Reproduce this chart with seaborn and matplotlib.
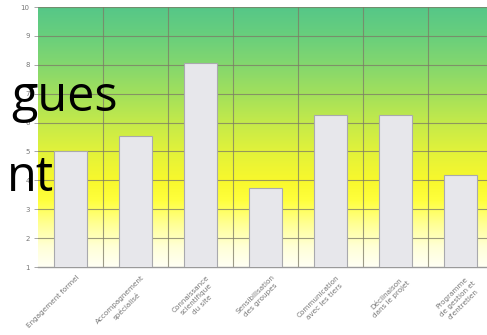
import numpy as np
import pandas as pd
import matplotlib
matplotlib.use("Agg")
import matplotlib.pyplot as plt
import matplotlib.transforms as mtransforms
from matplotlib.colors import LinearSegmentedColormap
import seaborn as sns

categories = [
    "Engagement formel",
    "Accompagnement\nspécialisé",
    "Connaissance\nscientifique\ndu site",
    "Sensibilisation\ndes groupes",
    "Communication\navec les tiers",
    "Déclinaison\ndans le projet",
    "Programme\nde gestion et\nd'entretien",
]
scores = [5.0, 5.55, 8.05, 3.75, 6.25, 6.25, 4.2]
y_ticks = list(range(1, 11))

df = pd.DataFrame({"critere": categories, "note": scores})

sns.set_theme(style="white")
plt.rcParams["font.family"] = ["DejaVu Sans"]

fig = plt.figure(figsize=(4.87, 3.35), dpi=100)
ax = fig.add_axes([38 / 487, 1 - 267 / 335, 455 / 487, 260 / 335])

# background gradient: green at the top, yellow in the middle, white at the bottom
stops = [
    (1.0, "#fffff4"), (1.7, "#ffffd6"), (2.5, "#ffff92"), (3.3, "#ffff3c"),
    (4.0, "#f8f82c"), (5.0, "#e2f23a"), (6.0, "#c4ea4a"), (7.0, "#a2e05c"),
    (8.0, "#84d76e"), (9.0, "#69cf7c"), (10.0, "#56c788"),
]
cmap = LinearSegmentedColormap.from_list(
    "fond", [((v - 1) / 9, c) for v, c in stops])
grad = np.linspace(0, 1, 256).reshape(-1, 1)
ax.imshow(grad, cmap=cmap, origin="lower", aspect="auto",
          extent=(-0.5, 6.5, 1, 10), zorder=0, interpolation="bicubic")

# grid
for v in y_ticks[1:]:
    ax.axhline(v, color="#7d7a66", lw=0.8, alpha=0.75, zorder=1)
for k in range(len(categories)):
    ax.axvline(k + 0.5, color="#7d7a66", lw=0.8, alpha=0.75, zorder=1)

sns.barplot(data=df, x="critere", y="note", ax=ax, width=0.5,
            color="#e7e7eb", edgecolor="#a9a9ad", linewidth=0.8,
            saturation=1, zorder=3)
for p in ax.patches:
    p.set_zorder(3)

ax.set_xlim(-0.5, 6.5)
ax.set_ylim(1, 10)
ax.set_yticks(y_ticks)
ax.set_yticklabels([str(t) for t in y_ticks], fontsize=5, color="#777777")
ax.tick_params(axis="y", length=3, width=0.6, color="#999999", pad=3, left=True)
ax.set_xticks(range(len(categories)))
ax.set_xticklabels(categories, rotation=45, ha="right", rotation_mode="anchor",
                   fontsize=5.2, color="#777777", multialignment="center",
                   linespacing=1.4)
ax.tick_params(axis="x", length=0, pad=5)
shift = mtransforms.ScaledTranslation(6 / 100, 0, fig.dpi_scale_trans)
for lab in ax.get_xticklabels():
    lab.set_transform(lab.get_transform() + shift)
ax.set_xlabel("")
ax.set_ylabel("")
for side in ["top", "right", "left"]:
    ax.spines[side].set_visible(False)
ax.spines["bottom"].set_color("#9a9a9a")
ax.spines["bottom"].set_linewidth(1.0)

# fragments of the slide title overlapping the chart
fig.text(118 / 487, 1 - 111 / 335, "gues", ha="right", va="baseline",
         fontsize=35, color="black", family=["Open Sans", "DejaVu Sans"])
fig.text(54 / 487, 1 - 191 / 335, "nt", ha="right", va="baseline",
         fontsize=35, color="black", family=["Open Sans", "DejaVu Sans"])

fig.savefig("out.png", dpi=100)
